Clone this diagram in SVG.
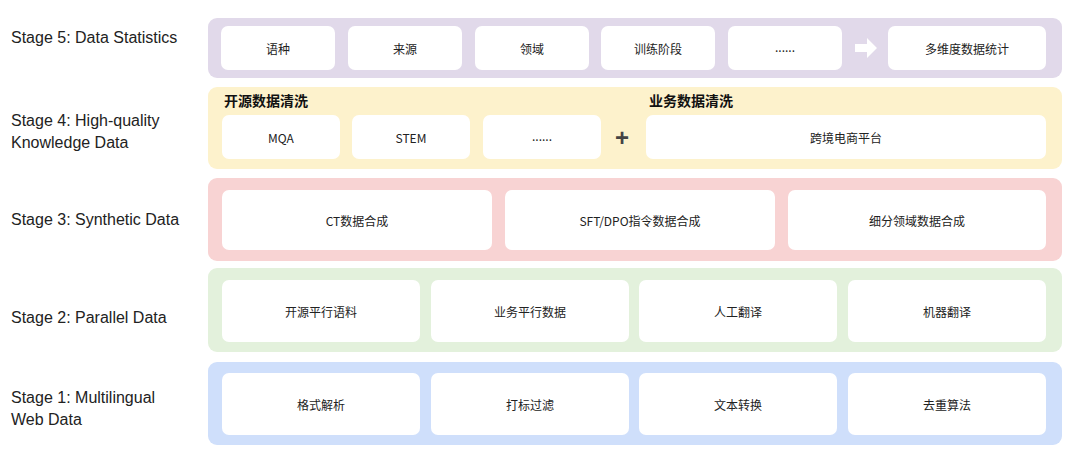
<svg xmlns="http://www.w3.org/2000/svg" width="1080" height="451" viewBox="0 0 1080 451">
<style>
.band{stroke-width:2}
.b{fill:#fff;rx:7}
.t{font-family:"Noto Sans CJK SC","Liberation Sans",sans-serif;font-size:12px;fill:#222;text-anchor:middle;dominant-baseline:central}
.s{font-family:"Liberation Sans","Noto Sans CJK SC",sans-serif;font-size:16px;fill:#222}
.h{font-family:"Noto Sans CJK SC",sans-serif;font-size:14px;font-weight:bold;fill:#111}
</style>
<rect width="1080" height="451" fill="#fff"/>
<g id="stage5">
<text class="s" x="11" y="43">Stage 5: Data Statistics</text>
<rect x="208" y="18" width="854" height="60" rx="9" fill="#e1d9ea"/>
<rect class="b" x="221" y="26" width="114" height="44"/><text class="t" x="278" y="48">语种</text>
<rect class="b" x="348" y="26" width="114" height="44"/><text class="t" x="405" y="48">来源</text>
<rect class="b" x="475" y="26" width="114" height="44"/><text class="t" x="532" y="48">领域</text>
<rect class="b" x="601" y="26" width="114" height="44"/><text class="t" x="658" y="48">训练阶段</text>
<rect class="b" x="728" y="26" width="114" height="44"/><text class="t" x="785" y="46">......</text>
<path d="M855 44h12v-6l10 10-10 10v-6h-12z" fill="#fff"/>
<rect class="b" x="888" y="26" width="158" height="44"/><text class="t" x="967" y="48">多维度数据统计</text>
</g>
<g id="stage4">
<text class="s" x="11" y="126">Stage 4: High-quality</text>
<text class="s" x="11" y="148">Knowledge Data</text>
<rect x="208" y="87" width="854" height="82" rx="9" fill="#fdf2cc"/>
<text class="h" x="224" y="106">开源数据清洗</text>
<text class="h" x="649" y="106">业务数据清洗</text>
<rect class="b" x="222" y="115" width="118" height="44"/><text class="t" x="281" y="137">MQA</text>
<rect class="b" x="352" y="115" width="118" height="44"/><text class="t" x="411" y="137">STEM</text>
<rect class="b" x="483" y="115" width="118" height="44"/><text class="t" x="542" y="135">......</text>
<text x="622" y="146" font-family="Liberation Sans,sans-serif" font-size="24" font-weight="bold" fill="#444" text-anchor="middle">+</text>
<rect class="b" x="646" y="115" width="400" height="44"/><text class="t" x="846" y="137">跨境电商平台</text>
</g>
<g id="stage3">
<text class="s" x="11" y="225">Stage 3: Synthetic Data</text>
<rect x="208" y="178" width="854" height="83" rx="9" fill="#f8d3d3"/>
<rect class="b" x="222" y="190" width="270" height="60"/><text class="t" x="357" y="220">CT数据合成</text>
<rect class="b" x="505" y="190" width="270" height="60"/><text class="t" x="640" y="220">SFT/DPO指令数据合成</text>
<rect class="b" x="788" y="190" width="258" height="60"/><text class="t" x="917" y="220">细分领域数据合成</text>
</g>
<g id="stage2">
<text class="s" x="11" y="323">Stage 2: Parallel Data</text>
<rect x="208" y="268" width="854" height="84" rx="9" fill="#e3f1dc"/>
<rect class="b" x="222" y="280" width="198" height="62"/><text class="t" x="321" y="311">开源平行语料</text>
<rect class="b" x="431" y="280" width="198" height="62"/><text class="t" x="530" y="311">业务平行数据</text>
<rect class="b" x="639" y="280" width="198" height="62"/><text class="t" x="738" y="311">人工翻译</text>
<rect class="b" x="848" y="280" width="198" height="62"/><text class="t" x="947" y="311">机器翻译</text>
</g>
<g id="stage1">
<text class="s" x="11" y="403">Stage 1: Multilingual</text>
<text class="s" x="11" y="425">Web Data</text>
<rect x="208" y="362" width="854" height="83" rx="9" fill="#cfdffb"/>
<rect class="b" x="222" y="373" width="198" height="62"/><text class="t" x="321" y="404">格式解析</text>
<rect class="b" x="431" y="373" width="198" height="62"/><text class="t" x="530" y="404">打标过滤</text>
<rect class="b" x="639" y="373" width="198" height="62"/><text class="t" x="738" y="404">文本转换</text>
<rect class="b" x="848" y="373" width="198" height="62"/><text class="t" x="947" y="404">去重算法</text>
</g>
<g id="connectors"></g>
</svg>
